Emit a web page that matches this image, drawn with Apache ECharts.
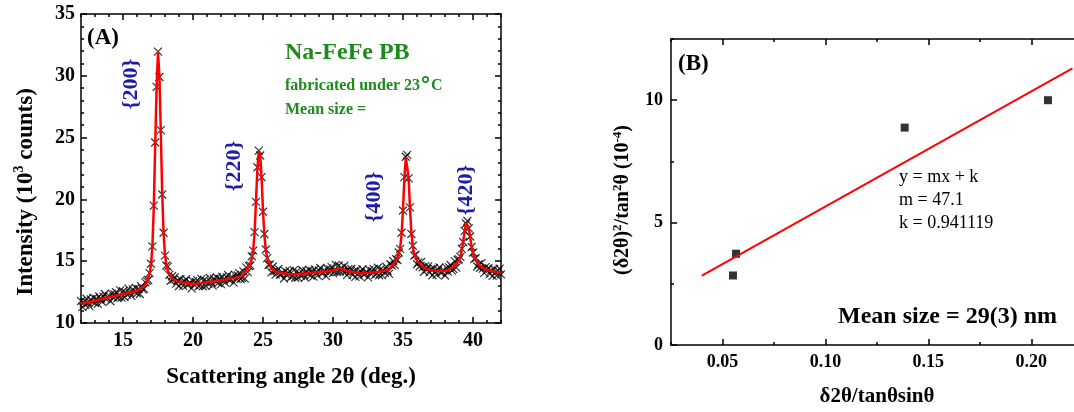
<!DOCTYPE html>
<html><head><meta charset="utf-8">
<script src="https://cdn.jsdelivr.net/npm/echarts@6/dist/echarts.min.js"></script>
<style>
html,body{margin:0;padding:0;background:#fff}
#wrap{position:relative;width:1074px;height:412px;background:#fff}
.layer{position:absolute;left:0;top:0;width:1074px;height:412px}
</style>
</head><body><div id="wrap"><div id="ca" class="layer"></div><div id="cb" class="layer"></div><div id="ct" class="layer"></div></div>
<script>
// ---------- Panel A: XRD scan (10^3 counts), sampled every 0.1 deg from 12.0 ----------
const scanStart = 12.0;
const scanStep = 0.1;
const counts = [
  11.77, 11.30, 11.65, 11.47, 11.96, 11.62, 11.37, 11.90, 11.73, 12.04,
  11.61, 11.95, 11.55, 12.16, 11.92, 11.71, 12.14, 12.35, 11.93, 12.03,
  12.19, 11.76, 12.38, 12.08, 12.31, 12.49, 12.02, 12.12, 12.64, 12.05,
  12.57, 12.10, 12.46, 12.29, 12.78, 12.44, 12.19, 12.72, 12.54, 12.84,
  12.41, 12.75, 12.35, 12.96, 12.72, 12.76, 13.29, 13.41, 13.48, 14.03,
  14.79, 16.2, 19.5, 24.6, 29.1, 31.95, 29.9, 25.6, 20.4, 17.3,
  15.45, 14.65, 14.56, 13.89, 13.42, 13.78, 13.51, 13.71, 13.18, 13.44,
  12.99, 13.55, 13.26, 13.00, 13.38, 13.54, 13.08, 13.14, 13.26, 12.80,
  13.39, 13.08, 13.30, 13.47, 12.98, 13.06, 13.57, 12.97, 13.48, 13.00,
  13.35, 13.17, 13.65, 13.30, 13.05, 13.58, 13.39, 13.68, 13.24, 13.56,
  13.14, 13.74, 13.49, 13.27, 13.69, 13.89, 13.46, 13.55, 13.70, 13.27,
  13.89, 13.60, 13.84, 14.03, 13.56, 13.66, 14.18, 13.59, 14.50, 14.12,
  14.60, 14.65, 15.4, 15.85, 17.35, 19.8, 22.6, 23.95, 23.55, 21.8,
  19.0, 17.2, 15.95, 15.25, 14.71, 14.72, 14.09, 14.57, 14.20, 13.91,
  14.24, 14.38, 13.90, 13.95, 14.06, 13.60, 14.19, 13.86, 14.06, 14.21,
  13.71, 13.78, 14.28, 13.66, 14.16, 13.67, 14.01, 13.82, 14.29, 13.93,
  13.67, 14.19, 14.00, 14.29, 13.85, 14.17, 13.75, 14.34, 14.08, 13.85,
  14.26, 14.45, 14.01, 14.09, 14.23, 13.79, 14.41, 14.11, 14.34, 14.52,
  14.04, 14.16, 14.70, 14.13, 14.65, 14.17, 14.47, 14.21, 14.61, 14.19,
  13.87, 14.35, 14.12, 14.37, 13.89, 14.17, 13.73, 14.30, 14.02, 13.77,
  14.16, 14.35, 13.91, 13.99, 14.13, 13.69, 14.30, 13.99, 14.21, 14.38,
  13.89, 13.97, 14.47, 13.86, 14.36, 13.87, 14.23, 14.06, 14.55, 14.21,
  13.97, 14.75, 14.64, 15.02, 14.69, 15.17, 15.10, 15.7, 16.0, 17.3,
  19.1, 21.8, 23.45, 23.6, 21.7, 19.35, 17.2, 16.25, 15.45, 15.52,
  14.75, 14.91, 14.59, 14.95, 14.50, 14.15, 14.60, 14.35, 14.58, 14.09,
  14.36, 13.86, 14.43, 14.15, 13.91, 14.31, 14.50, 14.06, 14.14, 14.28,
  13.84, 14.46, 14.16, 14.49, 14.69, 14.24, 14.36, 15.0, 14.48, 15.12,
  15.15, 15.35, 16.0, 16.55, 17.45, 18.05, 18.25, 17.65, 17.0, 16.15,
  15.7, 15.2, 15.25, 14.57, 14.75, 14.47, 14.84, 14.40, 14.06, 14.52,
  14.28, 14.44, 13.97, 14.26, 13.81, 14.37, 14.09, 13.84, 14.23, 14.40,
  13.94
];
// fitted profile (red line)
const fitAngle = [12, 13, 14, 15, 16, 16.5, 16.7, 16.9, 17.0, 17.1, 17.2, 17.3, 17.4, 17.5, 17.6, 17.7, 17.8, 17.9, 18.0, 18.1, 18.2, 18.4, 18.7, 19, 20, 21, 22, 23, 23.5, 23.8, 24.0, 24.2, 24.3, 24.4, 24.5, 24.6, 24.7, 24.8, 24.9, 25.0, 25.1, 25.2, 25.3, 25.4, 25.6, 26.0, 27, 28, 29, 30, 30.5, 31, 32, 33, 34, 34.4, 34.6, 34.7, 34.8, 34.9, 35.0, 35.1, 35.2, 35.3, 35.4, 35.5, 35.6, 35.7, 35.8, 36.0, 36.5, 37, 38, 38.5, 38.8, 39.0, 39.1, 39.2, 39.3, 39.4, 39.5, 39.6, 39.7, 39.8, 39.9, 40.0, 40.2, 40.5, 41, 42];
const fitCounts = [11.55, 11.8, 12.1, 12.35, 12.6, 13.0, 13.3, 14.05, 14.7, 16.2, 19.4, 24.4, 29.1, 31.9, 30.0, 25.5, 20.5, 17.2, 15.5, 14.7, 14.25, 13.75, 13.45, 13.3, 13.15, 13.3, 13.45, 13.65, 13.8, 14.28, 14.55, 15.2, 15.9, 17.3, 19.9, 22.5, 23.9, 23.6, 21.7, 19.1, 17.1, 15.9, 15.3, 14.9, 14.4, 14.08, 13.92, 14.0, 14.1, 14.25, 14.45, 14.2, 14.0, 14.1, 14.3, 14.88, 15.3, 15.6, 16.1, 17.2, 19.2, 21.7, 23.4, 23.5, 21.8, 19.3, 17.3, 16.2, 15.6, 15.03, 14.48, 14.24, 14.2, 14.45, 14.75, 15.1, 15.4, 15.9, 16.6, 17.4, 18.1, 18.2, 17.7, 16.9, 16.2, 15.65, 15.05, 14.62, 14.3, 14.05];
const peakLabels = ['{200}', '{220}', '{400}', '{420}'];
const xLabelsA = [15, 20, 25, 30, 35, 40];

// ---------- Panel B: Williamson-Hall type plot ----------
const whX = [0.0551, 0.0566, 0.1385, 0.2081];
const whY = [2.84, 3.73, 8.88, 10.0];
const whFitX = [0.04, 0.22];
const whFitY = [2.83, 11.30];
const xLabelsB = [0.05, 0.10, 0.15, 0.20];
const yLabelsB = [0, 5, 10];

const FF = '"Liberation Serif", "Times New Roman", serif';
const GREEN = '#1d8a1d';
const BLUE = '#1c1ca8';
const lineSt = { color: '#000', width: 1.5 };
const LINE_ON = { show: true, onZero: false, lineStyle: lineSt };
const LINE_OFF = { show: false, onZero: false };

function xAxisDef(pos, min, max, opts) {
  return Object.assign({ type: 'value', gridIndex: 0, position: pos, min: min, max: max,
    axisLine: LINE_ON, axisTick: { show: true, inside: true, length: 6, lineStyle: lineSt },
    axisLabel: { show: false }, splitLine: { show: false } }, opts);
}

const scanData = counts.map((c, i) => [+(scanStart + i * scanStep).toFixed(2), c]);
const fitData = fitAngle.map((a, i) => [a, fitCounts[i]]);
const whData = whX.map((x, i) => [x, whY[i]]);
const whFitData = whFitX.map((x, i) => [x, whFitY[i]]);

const labelA = { show: true, fontSize: 20, fontWeight: 'bold', fontFamily: FF, color: '#000', margin: 8 };
const labelB = { show: true, fontSize: 18, fontWeight: 'bold', fontFamily: FF, color: '#000', margin: 8 };

// ----- Panel A chart -----
const optionA = {
  animation: false,
  grid: [{ left: 81, top: 14, width: 420, height: 309, outerBoundsMode: 'none', containLabel: false }],
  xAxis: [
    xAxisDef('bottom', 12, 42, { axisTick: { show: true, inside: true, length: 6, lineStyle: lineSt, customValues: xLabelsA }, axisLabel: Object.assign({ customValues: xLabelsA }, labelA) }),
    xAxisDef('bottom', 12, 42, { interval: 1, axisLine: LINE_OFF, axisTick: { show: true, inside: true, length: 3, lineStyle: lineSt } }),
    xAxisDef('top', 12, 42, { axisTick: { show: true, inside: true, length: 6, lineStyle: lineSt, customValues: xLabelsA } }),
    xAxisDef('top', 12, 42, { interval: 1, axisLine: LINE_OFF, axisTick: { show: true, inside: true, length: 3, lineStyle: lineSt } })
  ],
  yAxis: [
    { type: 'value', gridIndex: 0, position: 'left', min: 10, max: 35, interval: 5, axisLine: LINE_ON,
      axisTick: { show: true, inside: true, length: 6, lineStyle: lineSt }, minorTick: { show: true, splitNumber: 5, length: 3, lineStyle: lineSt },
      axisLabel: Object.assign({}, labelA, { margin: 6 }), splitLine: { show: false } },
    { type: 'value', gridIndex: 0, position: 'right', min: 10, max: 35, interval: 5, axisLine: LINE_ON,
      axisTick: { show: true, inside: true, length: 6, lineStyle: lineSt }, minorTick: { show: true, splitNumber: 5, length: 3, lineStyle: lineSt },
      axisLabel: { show: false }, splitLine: { show: false } }
  ],
  series: [
    { type: 'line', xAxisIndex: 0, yAxisIndex: 0, data: fitData, showSymbol: false,
      lineStyle: { color: '#ff0000', width: 2.5 } },
    { type: 'scatter', xAxisIndex: 0, yAxisIndex: 0, data: scanData,
      symbol: 'path://M0,0L10,10M10,0L0,10', symbolSize: 8,
      itemStyle: { color: 'rgba(0,0,0,0)', borderColor: '#000', borderWidth: 1.2 } }
  ]
};

// ----- Panel B chart -----
const optionB = {
  animation: false,
  grid: [{ left: 671, top: 39, width: 420, height: 306, outerBoundsMode: 'none', containLabel: false }],
  xAxis: [
    xAxisDef('bottom', 0.025, 0.229, { axisTick: { show: true, inside: true, length: 6, lineStyle: lineSt, customValues: xLabelsB }, axisLabel: Object.assign({ customValues: xLabelsB, formatter: v => v.toFixed(2) }, labelB) }),
    xAxisDef('bottom', 0.025, 0.229, { interval: 0.025, axisLine: LINE_OFF, axisTick: { show: true, inside: true, length: 3, lineStyle: lineSt } }),
    xAxisDef('top', 0.025, 0.229, { axisTick: { show: true, inside: true, length: 6, lineStyle: lineSt, customValues: xLabelsB } }),
    xAxisDef('top', 0.025, 0.229, { interval: 0.025, axisLine: LINE_OFF, axisTick: { show: true, inside: true, length: 3, lineStyle: lineSt } })
  ],
  yAxis: [
    { type: 'value', gridIndex: 0, position: 'left', min: 0, max: 12.5, axisLine: LINE_ON,
      axisTick: { show: true, inside: true, length: 6, lineStyle: lineSt, customValues: yLabelsB },
      axisLabel: Object.assign({ customValues: yLabelsB }, labelB), splitLine: { show: false } },
    { type: 'value', gridIndex: 0, position: 'left', min: 0, max: 12.5, interval: 2.5, axisLine: LINE_OFF,
      axisTick: { show: true, inside: true, length: 3, lineStyle: lineSt }, axisLabel: { show: false }, splitLine: { show: false } }
  ],
  series: [
    { type: 'line', xAxisIndex: 0, yAxisIndex: 0, data: whFitData, showSymbol: false,
      lineStyle: { color: '#ff0000', width: 2 } },
    { type: 'scatter', xAxisIndex: 0, yAxisIndex: 0, data: whData, symbol: 'rect', symbolSize: 8,
      itemStyle: { color: '#000' } }
  ]
};

// ----- Text layer -----
function txt(x, y, text, font, fill, align) {
  return { type: 'text', x: x, y: y,
    style: { text: text, font: font, fill: fill, align: align || 'left', verticalAlign: 'middle' } };
}
function rotTxt(x, y, text, font, fill) {
  return { type: 'text', x: x, y: y, rotation: Math.PI / 2,
    style: { text: text, font: font, fill: fill, align: 'center', verticalAlign: 'middle' } };
}
function richRot(x, y, text, size, supSize) {
  return { type: 'text', x: x, y: y, rotation: Math.PI / 2,
    style: { text: text, align: 'center', verticalAlign: 'middle',
      rich: {
        b: { fontSize: size, fontWeight: 'bold', fontFamily: FF, fill: '#000', lineHeight: size + 4 },
        s: { fontSize: supSize, fontWeight: 'bold', fontFamily: FF, fill: '#000', verticalAlign: 'top', lineHeight: size + 4 }
      } } };
}
const optionT = {
  animation: false,
  graphic: [
    txt(87, 38, '(A)', 'bold 23px ' + FF, '#000'),
    txt(285, 53, 'Na-FeFe PB', 'bold 24px ' + FF, GREEN),
    { type: 'text', x: 285, y: 86, style: { text: '{a|fabricated under 23}{d|°}{a|C}', verticalAlign: 'middle', align: 'left',
      rich: { a: { fontSize: 16, fontWeight: 'bold', fontFamily: FF, fill: GREEN, lineHeight: 22 },
              d: { fontSize: 22, fontWeight: 'bold', fontFamily: 'DejaVu Sans', fill: GREEN, lineHeight: 22, verticalAlign: 'top' } } } },
    txt(285, 110, 'Mean size =', 'bold 16px ' + FF, GREEN),
    rotTxt(131, 84, peakLabels[0], 'bold 22px ' + FF, BLUE),
    rotTxt(234, 166, peakLabels[1], 'bold 22px ' + FF, BLUE),
    rotTxt(374, 197, peakLabels[2], 'bold 22px ' + FF, BLUE),
    rotTxt(466, 190, peakLabels[3], 'bold 22px ' + FF, BLUE),
    richRot(26, 192, '{b|Intensity (10}{s|3}{b| counts)}', 23, 14),
    txt(291, 377, 'Scattering angle 2θ (deg.)', 'bold 23px ' + FF, '#000', 'center'),
    txt(678, 64, '(B)', 'bold 23px ' + FF, '#000'),
    txt(899, 177, 'y = mx + k', '18px ' + FF, '#000'),
    txt(899, 200, 'm = 47.1', '18px ' + FF, '#000'),
    txt(899, 223, 'k = 0.941119', '18px ' + FF, '#000'),
    txt(838, 317, 'Mean size = 29(3) nm', 'bold 24px ' + FF, '#000'),
    richRot(623, 200, '{b|(δ2θ)}{s|2}{b|/tan}{s|2}{b|θ (10}{s|-4}{b|)}', 20, 13),
    txt(877, 397, 'δ2θ/tanθsinθ', 'bold 21px ' + FF, '#000', 'center')
  ]
};

echarts.init(document.getElementById('ca')).setOption(optionA);
echarts.init(document.getElementById('cb')).setOption(optionB);
echarts.init(document.getElementById('ct')).setOption(optionT);
</script>
</body></html>
